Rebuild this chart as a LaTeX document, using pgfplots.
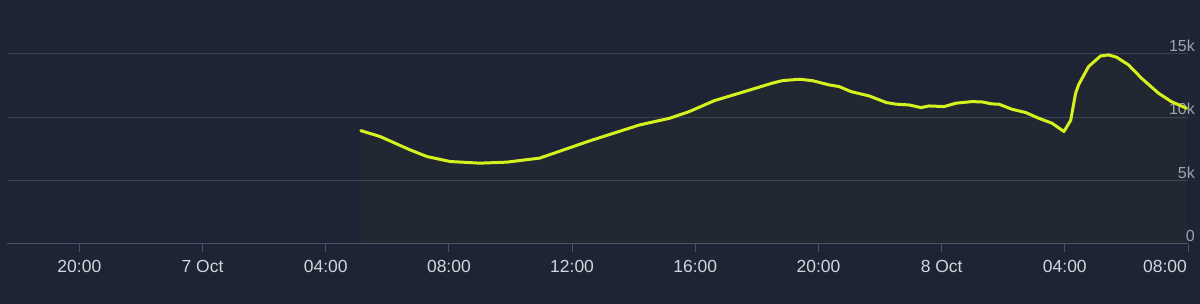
\documentclass[border=0pt]{standalone}
\usepackage{pgfplots}
\pgfplotsset{compat=1.18}
\usepackage{fontspec}
\setmainfont{Liberation Sans}
\usetikzlibrary{backgrounds}
\definecolor{bgcol}{HTML}{1E2433}
\definecolor{gridcol}{HTML}{394052}
\definecolor{basecol}{HTML}{4A5269}
\definecolor{linecol}{HTML}{D6F21E}
\definecolor{xlab}{HTML}{D2D5DC}
\definecolor{ylab}{HTML}{9EA3AE}
\pgfplotstableread{
h v
5.14 8940
5.77 8470
6.25 7950
6.74 7420
7.29 6890
8.04 6500
9.01 6370
9.88 6450
10.95 6770
11.76 7450
12.57 8130
13.38 8760
14.19 9390
15.17 9920
15.81 10450
16.62 11310
17.43 11900
18.50 12690
18.83 12890
19.38 13000
19.80 12890
20.35 12550
20.67 12420
21.06 12020
21.65 11680
22.20 11160
22.52 11030
22.94 10970
23.33 10760
23.59 10890
24.08 10840
24.47 11110
24.98 11230
25.31 11210
25.63 11050
25.86 11030
26.28 10630
26.73 10370
27.15 9920
27.58 9530
27.97 8870
28.19 9750
28.35 11900
28.45 12580
28.77 14000
29.16 14840
29.42 14920
29.68 14740
30.07 14130
30.49 13080
31.04 11900
31.46 11230
31.95 10710
}\datatable
\begin{document}
\begin{tikzpicture}
\begin{axis}[
  name=ax,
  scale only axis,
  width=1182pt, height=244pt,
  xmin=-6.35, xmax=32,
  ymin=0, ymax=19260,
  scaled y ticks=false,
  separate axis lines,
  axis x line*=bottom,
  axis y line*=right,
  y axis line style={draw=none},
  x axis line style={draw=basecol, line width=1pt},
  xtick={-4,0,4,8,12,16,20,24,28},
  xticklabels={20:00,7 Oct,04:00,08:00,12:00,16:00,20:00,8 Oct,04:00},
  extra x ticks={32},
  extra x tick labels={08:00},
  extra x tick style={tick style={draw=none}, xticklabel style={xshift=-23pt}},
  tick align=outside,
  major tick length=8pt,
  xtick style={draw=basecol, line width=1pt},
  ytick={0,5000,10000,15000},
  yticklabels={0,5k,10k,15k},
  ytick style={draw=none},
  ymajorgrids,
  grid style={draw=gridcol, line width=1pt},
  yticklabel pos=right,
  yticklabel style={anchor=south east, xshift=-1pt, yshift=2pt, text=ylab, font=\fontsize{16pt}{18pt}\selectfont, inner sep=0pt},
  xticklabel style={text=xlab, font=\fontsize{17.5pt}{20pt}\selectfont, yshift=-5pt},
  clip=false,
]
\addplot[draw=none, fill=linecol, fill opacity=0.025] table[x=h,y=v]{\datatable} \closedcycle;
\addplot[draw=linecol, line width=3pt, line join=round, line cap=round] table[x=h,y=v]{\datatable};
\end{axis}
\begin{pgfonlayer}{background}
\fill[bgcol] ([xshift=-7pt,yshift=-60pt]ax.south west) rectangle ([xshift=12pt]ax.north east);
\end{pgfonlayer}
\end{tikzpicture}
\end{document}
